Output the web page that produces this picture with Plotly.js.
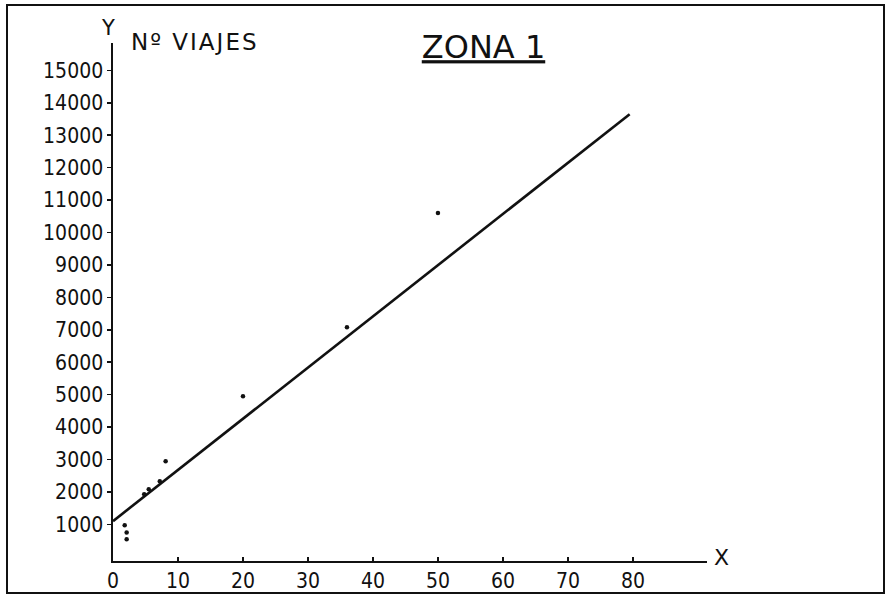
<!DOCTYPE html>
<html>
<head>
<meta charset="utf-8">
<script src="https://cdn.plot.ly/plotly-3.0.1.min.js"></script>
<style>
  html, body { margin: 0; padding: 0; background: #fff; }
  #wrap { position: relative; width: 885px; height: 596px; }
  #chart { width: 885px; height: 596px; }
  #frame { position: absolute; left: 6px; top: 4px; width: 879px; height: 590px;
           box-sizing: border-box; border: 2px solid #111; pointer-events: none; }
</style>
</head>
<body>
<div id="wrap">
  <div id="chart"></div>
  <div id="frame"></div>
</div>
<script>
// Observed data points (X, Nº viajes)
const pointsX = [1.8, 2.1, 2.1, 4.8, 5.5, 7.2, 8.1, 20, 36, 50];
const pointsY = [970, 750, 540, 1925, 2080, 2330, 2945, 4950, 7080, 10600];

// Fitted straight line (end points)
const lineX = [0, 79.5];
const lineY = [1100, 13650];

// Tick values and labels
const xTickVals = [0, 10, 20, 30, 40, 50, 60, 70, 80];
const xTickText = ['0', '10', '20', '30', '40', '50', '60', '70', '80'];
const yTickVals = [1000, 2000, 3000, 4000, 5000, 6000, 7000, 8000, 9000, 10000, 11000, 12000, 13000, 14000, 15000];
const yTickText = ['1000', '2000', '3000', '4000', '5000', '6000', '7000', '8000', '9000', '10000', '11000', '12000', '13000', '14000', '15000'];

const xRange = [0, 91.4];
const yRange = [-130, 15845];

const ink = '#111';
const tickFont = { family: 'DejaVu Sans Condensed, DejaVu Sans, sans-serif', size: 21, color: ink };

const traces = [
  {
    x: lineX, y: lineY, type: 'scatter', mode: 'lines',
    line: { color: ink, width: 2.6 }, hoverinfo: 'skip', showlegend: false
  },
  {
    x: pointsX, y: pointsY, type: 'scatter', mode: 'markers',
    marker: { color: ink, size: 4.5 }, showlegend: false
  }
];

const layout = {
  width: 885, height: 596,
  margin: { l: 113, r: 178, t: 43, b: 35 },
  paper_bgcolor: '#fff', plot_bgcolor: '#fff',
  showlegend: false,
  title: {
    text: 'ZONA 1',
    xref: 'container', yref: 'container',
    x: 483.5 / 885, y: 1 - 47 / 596, xanchor: 'center', yanchor: 'middle',
    font: { family: 'DejaVu Sans, sans-serif', size: 32, color: ink, lineposition: 'under' }
  },
  xaxis: {
    range: xRange, showgrid: false, zeroline: false,
    showline: true, linecolor: ink, linewidth: 1.6,
    ticks: 'inside', ticklen: 4, tickwidth: 1.6, tickcolor: ink,
    tickvals: xTickVals, ticktext: xTickText, tickfont: tickFont
  },
  xaxis2: {
    overlaying: 'x', anchor: 'y', side: 'bottom', range: xRange,
    showgrid: false, zeroline: false, showline: false,
    ticks: 'outside', ticklen: 4, tickwidth: 1.6, tickcolor: ink,
    tickvals: xTickVals, showticklabels: false
  },
  yaxis: {
    range: yRange, showgrid: false, zeroline: false,
    showline: true, linecolor: ink, linewidth: 1.6,
    ticks: 'outside', ticklen: 4, tickwidth: 1.6, tickcolor: ink,
    tickvals: yTickVals, ticktext: yTickText, tickfont: tickFont
  },
  yaxis2: {
    overlaying: 'y', anchor: 'x', side: 'left', range: yRange,
    showgrid: false, zeroline: false, showline: false,
    ticks: 'inside', ticklen: 4, tickwidth: 1.6, tickcolor: ink,
    tickvals: yTickVals, showticklabels: false
  },
  annotations: [
    {
      text: 'Y', xref: 'paper', yref: 'paper', x: -5 / 594, y: 1 + 15 / 518,
      xanchor: 'center', yanchor: 'middle', showarrow: false,
      font: { family: 'DejaVu Sans, sans-serif', size: 21, color: ink }
    },
    {
      text: 'X', xref: 'paper', yref: 'paper', x: (721 - 113) / 594, y: (561 - 557) / 518,
      xanchor: 'center', yanchor: 'middle', showarrow: false,
      font: { family: 'DejaVu Sans, sans-serif', size: 22, color: ink }
    },
    {
      text: '<span style="letter-spacing:2px">Nº VIAJES</span>', xref: 'paper', yref: 'paper',
      x: (129 - 113) / 594, y: 1 + 1 / 518,
      xanchor: 'left', yanchor: 'middle', showarrow: false,
      font: { family: 'DejaVu Sans, sans-serif', size: 23, color: ink }
    }
  ]
};

Plotly.newPlot('chart', traces, layout, { displayModeBar: false, staticPlot: true });
</script>
</body>
</html>
